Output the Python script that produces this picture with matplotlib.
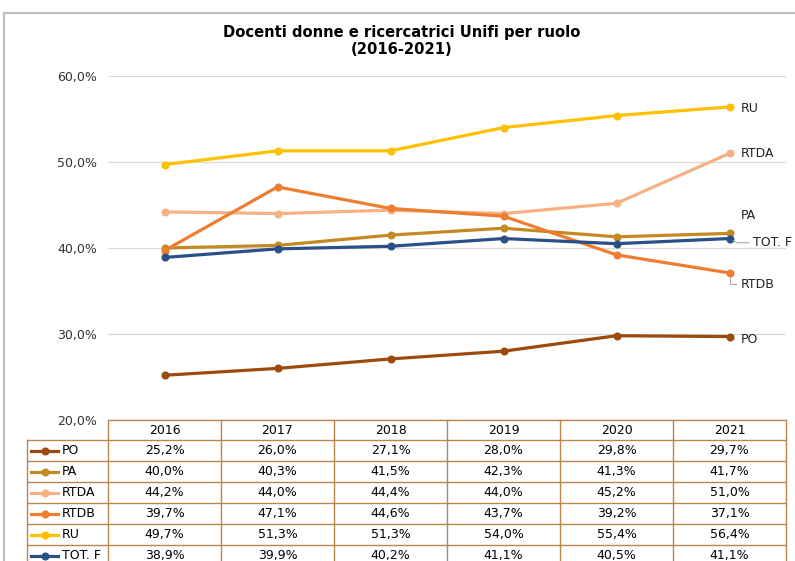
import matplotlib.pyplot as plt
from matplotlib.transforms import blended_transform_factory
from matplotlib.patches import Rectangle

# Dati (percentuale di donne per ruolo)
years = ['2016', '2017', '2018', '2019', '2020', '2021']
roles = ['PO', 'PA', 'RTDA', 'RTDB', 'RU', 'TOT. F']
po = [25.2, 26.0, 27.1, 28.0, 29.8, 29.7]
pa = [40.0, 40.3, 41.5, 42.3, 41.3, 41.7]
rtda = [44.2, 44.0, 44.4, 44.0, 45.2, 51.0]
rtdb = [39.7, 47.1, 44.6, 43.7, 39.2, 37.1]
ru = [49.7, 51.3, 51.3, 54.0, 55.4, 56.4]
tot_f = [38.9, 39.9, 40.2, 41.1, 40.5, 41.1]
y_ticks = [20, 30, 40, 50, 60]

series = [po, pa, rtda, rtdb, ru, tot_f]
colors = ['#9C4A0E', '#C48A22', '#F4B183', '#ED7D31', '#FFC000', '#2B4F86']
# offset etichette a destra (punti) e stile della linea guida (None = nessuna)
label_off = {'PO': (8, -2, None), 'PA': (8, 13, None), 'RTDA': (8, 0, None),
             'RTDB': (8, -8, 'angle,angleA=0,angleB=90,rad=0'), 'RU': (8, -1, None),
             'TOT. F': (17, -3, 'angle,angleA=0,angleB=-30,rad=0')}

W, H = 795, 561
fig = plt.figure(figsize=(W / 100, H / 100), dpi=100)
ax = fig.add_axes([108 / W, 1 - 420 / H, 678 / W, 344 / H])

x = list(range(len(years)))
for name, vals, c in zip(roles, series, colors):
    ax.plot(x, vals, color=c, lw=2.3, marker='o', ms=4.8, zorder=3)
    dx, dy, conn = label_off[name]
    arrow = None
    if conn:
        arrow = dict(arrowstyle='-', color='#A6A6A6', lw=0.8, shrinkA=1, shrinkB=3, connectionstyle=conn)
    ax.annotate(name, (x[-1], vals[-1]), xytext=(dx, dy), textcoords='offset points',
                va='center', ha='left', fontsize=9, color='#222222', annotation_clip=False,
                arrowprops=arrow)

ax.set_xlim(-0.5, len(years) - 0.5)
ax.set_ylim(20, 60)
ax.set_yticks(y_ticks)
ax.set_yticklabels([f'{v:.1f}%'.replace('.', ',') for v in y_ticks], fontsize=9, color='#333333')
ax.set_xticks([])
ax.tick_params(axis='y', length=0, pad=8)
ax.grid(axis='y', color='#D9D9D9', lw=0.9)
ax.set_axisbelow(True)
for s in ax.spines.values():
    s.set_visible(False)

fig.text(402 / W, 1 - 41 / H, 'Docenti donne e ricercatrici Unifi per ruolo\n(2016-2021)',
         ha='center', va='center', fontsize=10.6, fontweight='bold', linespacing=1.15)

# cornice del grafico
fig.patches.append(Rectangle((4 / W, -0.1), 1.0, 1 - 13 / H + 0.1, transform=fig.transFigure,
                             fill=False, edgecolor='#BFBFBF', lw=1.6))

# tabella dati sotto il grafico
tr = blended_transform_factory(ax.transData, fig.transFigure)
edge = '#B9874E'
def fy(py):
    return 1 - py / H

head_top, head_bot, row_h = 420, 440, 21
ax.plot([-0.5, len(years) - 0.5], [fy(head_top)] * 2, transform=tr, color=edge, lw=1, clip_on=False)
for i, yr in enumerate(years):
    ax.text(i, fy((head_top + head_bot) / 2), yr, transform=tr, ha='center', va='center', fontsize=9)
n_rows = len(roles)
bottom = head_bot + row_h * n_rows
for i in range(len(years) + 1):
    ax.plot([i - 0.5] * 2, [fy(head_top), fy(bottom)], transform=tr, color=edge, lw=1, clip_on=False)
lab_left = 27
fig.add_artist(plt.Line2D([lab_left / W] * 2, [fy(head_bot), fy(bottom)], color=edge, lw=1))
for r in range(n_rows + 1):
    yy = fy(head_bot + r * row_h)
    fig.add_artist(plt.Line2D([lab_left / W, 786 / W], [yy, yy], color=edge, lw=1))
for r, (name, vals, c) in enumerate(zip(roles, series, colors)):
    yc = fy(head_bot + r * row_h + row_h / 2)
    fig.add_artist(plt.Line2D([31 / W, 58 / W], [yc, yc], color=c, lw=2.3))
    fig.add_artist(plt.Line2D([44.5 / W], [yc], color=c, marker='o', ms=4.8))
    fig.text(62 / W, yc, name, ha='left', va='center', fontsize=9)
    for i, v in enumerate(vals):
        ax.text(i, yc, f'{v:.1f}%'.replace('.', ','), transform=tr, ha='center', va='center', fontsize=9)

fig.savefig('out.png', dpi=100)
